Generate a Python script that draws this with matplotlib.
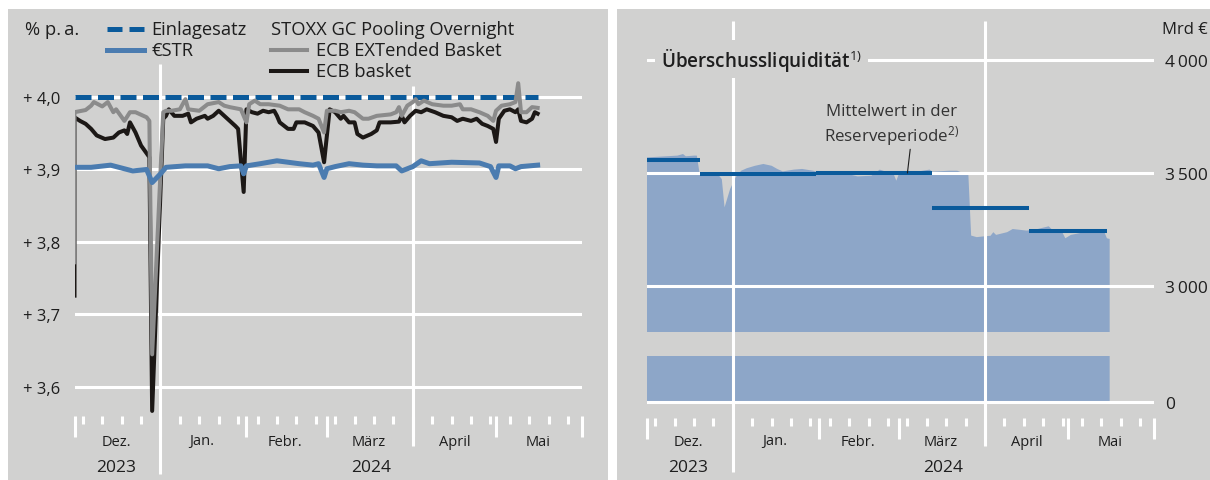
import matplotlib.pyplot as plt
import matplotlib.dates as mdates
import matplotlib.transforms as mtransforms
import pandas as pd
from matplotlib.lines import Line2D
from matplotlib.patches import Rectangle

FONT = 'Open Sans'
plt.rcParams['font.family'] = [FONT, 'DejaVu Sans']
plt.rcParams['mathtext.fontset'] = 'custom'
plt.rcParams['mathtext.rm'] = FONT
plt.rcParams['mathtext.it'] = FONT + ':italic'
plt.rcParams['mathtext.bf'] = FONT + ':bold'

# ---------------- data ----------------
einlage_dates = ['2023-12-01', '2024-05-16']
einlage_vals = [4.0, 4.0]

ext_dates = ['2023-12-01', '2023-12-01', '2023-12-05', '2023-12-07', '2023-12-08', '2023-12-11',
             '2023-12-13', '2023-12-15', '2023-12-16', '2023-12-19', '2023-12-21', '2023-12-23',
             '2023-12-27', '2023-12-28', '2023-12-29', '2024-01-02', '2024-01-03', '2024-01-05',
             '2024-01-08', '2024-01-10', '2024-01-11', '2024-01-15', '2024-01-18', '2024-01-22',
             '2024-01-24', '2024-01-26', '2024-01-30', '2024-01-31', '2024-02-01', '2024-02-02',
             '2024-02-04', '2024-02-06', '2024-02-09', '2024-02-13', '2024-02-16', '2024-02-20',
             '2024-02-22', '2024-02-25', '2024-02-27', '2024-02-29', '2024-03-01', '2024-03-04',
             '2024-03-06', '2024-03-09', '2024-03-11', '2024-03-14', '2024-03-16', '2024-03-19',
             '2024-03-24', '2024-03-26', '2024-03-27', '2024-03-28', '2024-03-30', '2024-04-01',
             '2024-04-02', '2024-04-03', '2024-04-05', '2024-04-08', '2024-04-12', '2024-04-15',
             '2024-04-18', '2024-04-19', '2024-04-22', '2024-04-25', '2024-04-28', '2024-04-30',
             '2024-05-01', '2024-05-03', '2024-05-06', '2024-05-08', '2024-05-09', '2024-05-10',
             '2024-05-12', '2024-05-14', '2024-05-16']
ext_vals = [3.772, 3.979, 3.982, 3.988, 3.993, 3.987,
            3.993, 3.979, 3.983, 3.967, 3.979, 3.979,
            3.972, 3.967, 3.645, 3.979, 3.981, 3.981,
            3.983, 3.997, 3.983, 3.981, 3.990, 3.993,
            3.988, 3.986, 3.983, 3.974, 3.965, 3.990,
            3.995, 3.990, 3.990, 3.988, 3.983, 3.983,
            3.979, 3.974, 3.970, 3.951, 3.981, 3.981,
            3.979, 3.981, 3.979, 3.970, 3.970, 3.974,
            3.976, 3.979, 3.986, 3.974, 3.988, 3.993,
            3.997, 3.990, 3.995, 3.990, 3.988, 3.988,
            3.990, 3.983, 3.983, 3.979, 3.974, 3.967,
            3.981, 3.988, 3.990, 3.993, 4.019, 3.979,
            3.979, 3.986, 3.985]

ecb_dates = ['2023-12-01', '2023-12-01', '2023-12-03', '2023-12-05', '2023-12-07', '2023-12-09',
             '2023-12-12', '2023-12-15', '2023-12-17', '2023-12-19', '2023-12-20', '2023-12-21',
             '2023-12-23', '2023-12-25', '2023-12-28', '2023-12-29', '2024-01-02', '2024-01-03',
             '2024-01-04', '2024-01-06', '2024-01-09', '2024-01-11', '2024-01-12', '2024-01-14',
             '2024-01-17', '2024-01-18', '2024-01-20', '2024-01-22', '2024-01-24', '2024-01-26',
             '2024-01-28', '2024-01-29', '2024-01-31', '2024-02-01', '2024-02-03', '2024-02-05',
             '2024-02-07', '2024-02-09', '2024-02-11', '2024-02-12', '2024-02-13', '2024-02-16',
             '2024-02-18', '2024-02-19', '2024-02-22', '2024-02-25', '2024-02-27', '2024-02-29',
             '2024-03-02', '2024-03-04', '2024-03-06', '2024-03-07', '2024-03-09', '2024-03-11',
             '2024-03-12', '2024-03-14', '2024-03-17', '2024-03-19', '2024-03-20', '2024-03-24',
             '2024-03-27', '2024-03-28', '2024-03-29', '2024-03-31', '2024-04-02', '2024-04-04',
             '2024-04-06', '2024-04-09', '2024-04-12', '2024-04-15', '2024-04-17', '2024-04-19',
             '2024-04-22', '2024-04-24', '2024-04-26', '2024-04-28', '2024-04-30', '2024-05-01',
             '2024-05-02', '2024-05-04', '2024-05-06', '2024-05-08', '2024-05-09', '2024-05-10',
             '2024-05-12', '2024-05-14', '2024-05-15', '2024-05-16']
ecb_vals = [3.726, 3.972, 3.967, 3.963, 3.956, 3.947,
            3.942, 3.944, 3.951, 3.954, 3.949, 3.965,
            3.951, 3.933, 3.917, 3.567, 3.970, 3.974,
            3.983, 3.974, 3.974, 3.977, 3.965, 3.970,
            3.974, 3.970, 3.974, 3.981, 3.974, 3.967,
            3.960, 3.956, 3.869, 3.983, 3.979, 3.977,
            3.981, 3.979, 3.981, 3.974, 3.965, 3.956,
            3.956, 3.965, 3.965, 3.960, 3.951, 3.910,
            3.983, 3.979, 3.970, 3.974, 3.965, 3.965,
            3.949, 3.944, 3.949, 3.954, 3.965, 3.965,
            3.966, 3.974, 3.965, 3.974, 3.981, 3.979,
            3.983, 3.979, 3.974, 3.972, 3.967, 3.970,
            3.967, 3.970, 3.963, 3.960, 3.956, 3.938,
            3.970, 3.981, 3.983, 3.979, 3.983, 3.967,
            3.965, 3.970, 3.979, 3.977]

estr_dates = ['2023-12-01', '2023-12-07', '2023-12-14', '2023-12-19', '2023-12-22', '2023-12-27',
              '2023-12-29', '2024-01-01', '2024-01-03', '2024-01-10', '2024-01-18', '2024-01-22',
              '2024-01-26', '2024-01-30', '2024-01-31', '2024-02-01', '2024-02-06', '2024-02-12',
              '2024-02-16', '2024-02-20', '2024-02-25', '2024-02-27', '2024-02-29', '2024-03-01',
              '2024-03-04', '2024-03-09', '2024-03-14', '2024-03-19', '2024-03-26', '2024-03-28',
              '2024-04-01', '2024-04-04', '2024-04-07', '2024-04-15', '2024-04-25', '2024-04-29',
              '2024-05-01', '2024-05-02', '2024-05-06', '2024-05-08', '2024-05-10', '2024-05-16']
estr_vals = [3.903, 3.903, 3.906, 3.901, 3.898, 3.900,
             3.882, 3.894, 3.903, 3.905, 3.905, 3.901,
             3.904, 3.905, 3.894, 3.905, 3.908, 3.912,
             3.910, 3.908, 3.906, 3.908, 3.889, 3.901,
             3.904, 3.908, 3.906, 3.905, 3.905, 3.898,
             3.904, 3.912, 3.908, 3.910, 3.909, 3.904,
             3.889, 3.905, 3.905, 3.901, 3.904, 3.906]

liq_dates = ['2023-12-01', '2023-12-08', '2023-12-12', '2023-12-14', '2023-12-15', '2023-12-18',
             '2023-12-19', '2023-12-20', '2023-12-22', '2023-12-27', '2023-12-28', '2023-12-29',
             '2023-12-31', '2024-01-02', '2024-01-04', '2024-01-06', '2024-01-09', '2024-01-12',
             '2024-01-15', '2024-01-17', '2024-01-19', '2024-01-23', '2024-01-26', '2024-01-30',
             '2024-02-01', '2024-02-09', '2024-02-15', '2024-02-20', '2024-02-23', '2024-02-26',
             '2024-02-28', '2024-02-29', '2024-03-01', '2024-03-06', '2024-03-12', '2024-03-13',
             '2024-03-19', '2024-03-22', '2024-03-26', '2024-03-27', '2024-03-29', '2024-04-01',
             '2024-04-03', '2024-04-04', '2024-04-05', '2024-04-09', '2024-04-11', '2024-04-16',
             '2024-04-19', '2024-04-24', '2024-04-25', '2024-04-29', '2024-04-30', '2024-05-02',
             '2024-05-07', '2024-05-14', '2024-05-15', '2024-05-16']
liq_vals = [3569, 3574, 3577, 3584, 3574, 3577,
            3577, 3496, 3491, 3488, 3473, 3348,
            3429, 3481, 3510, 3521, 3532, 3540,
            3532, 3518, 3507, 3515, 3518, 3510,
            3503, 3503, 3485, 3488, 3515, 3503,
            3496, 3466, 3499, 3503, 3515, 3506,
            3510, 3510, 3491, 3223, 3216, 3220,
            3222, 3238, 3226, 3238, 3252, 3245,
            3249, 3264, 3252, 3235, 3211, 3226,
            3238, 3241, 3211, 3208]

mean_starts = ['2023-12-01', '2023-12-20', '2024-01-31', '2024-03-13', '2024-04-17']
mean_ends = ['2023-12-20', '2024-01-31', '2024-03-13', '2024-04-17', '2024-05-15']
mean_vals = [3557, 3496, 3500, 3344, 3241]

month_labels = ['Dez.', 'Jan.', 'Febr.', 'März', 'April', 'Mai']
month_mids = ['2023-12-16', '2024-01-16', '2024-02-15', '2024-03-16', '2024-04-16', '2024-05-16']

left_ticks = [3.6, 3.7, 3.8, 3.9, 4.0]
left_ticklabels = ['+ 3,6', '+ 3,7', '+ 3,8', '+ 3,9', '+ 4,0']
right_ticks = [3000, 3500, 4000]
right_ticklabels = ['3\u2009000', '3\u2009500', '4\u2009000']

# ---------------- style ----------------
W, H = 1210, 481
panel = '#d1d1d0'
txt = '#1e1e1e'
dark_blue = '#0a5a9b'
estr_blue = '#4b7cb0'
grey = '#8b8b8b'
black = '#1c1816'
fill_col = '#8da6c8'
FS_LEG = 13.2
FS_TICK = 12


def fx(x):
    return x / W


def fy(y):
    return 1 - y / H


D = pd.to_datetime
x_start, x_end = D('2023-12-01'), D('2024-06-01')

fig = plt.figure(figsize=(W / 100, H / 100), dpi=100, facecolor='white')
fig.add_artist(Rectangle((fx(8), 0), fx(608) - fx(8), fy(10), transform=fig.transFigure,
                         facecolor=panel, edgecolor='none', zorder=0))
fig.add_artist(Rectangle((fx(617), 0), fx(1210) - fx(617), fy(10), transform=fig.transFigure,
                         facecolor=panel, edgecolor='none', zorder=0))


def style_x(ax):
    ax.set_xlim(x_start, x_end)
    ax.xaxis.set_major_locator(mdates.MonthLocator())
    ax.xaxis.set_minor_locator(mdates.WeekdayLocator(byweekday=mdates.MO))
    ax.xaxis.set_major_formatter(plt.NullFormatter())
    ax.tick_params(axis='x', which='major', length=15, width=2.2, color='white', direction='out')
    ax.tick_params(axis='x', which='minor', length=6, width=2.2, color='white', direction='out')
    for s in ax.spines.values():
        s.set_visible(False)
    ax.patch.set_visible(False)


def month_year_labels(ax, year2024_mid):
    tr = mtransforms.blended_transform_factory(ax.transData, fig.transFigure)
    for lab, mid in zip(month_labels, month_mids):
        ax.text(D(mid), fy(442), lab, transform=tr, ha='center', va='center',
                fontsize=10.5, color=txt)
    ax.text(D('2023-12-16'), fy(468), '2023', transform=tr, ha='center', va='center',
            fontsize=12.5, color=txt)
    ax.text(year2024_mid, fy(468), '2024', transform=tr, ha='center', va='center',
            fontsize=12.5, color=txt)
    return tr


def vline(ax, tr, date, top, bottom):
    ax.plot([D(date), D(date)], [fy(top), fy(bottom)], transform=tr, color='white',
            lw=2.2, clip_on=False, zorder=1.6, solid_capstyle='butt')


mid2024 = D('2024-01-01') + (x_end - D('2024-01-01')) / 2

# ---------------- left panel ----------------
ax1 = fig.add_axes([fx(74.5), fy(417), fx(582) - fx(74.5), (417 - 65) / H])
style_x(ax1)
ax1.set_ylim(3.56, 4.0455)
ax1.set_yticks(left_ticks)
ax1.set_yticklabels(left_ticklabels)
ax1.tick_params(axis='y', length=0, pad=10, labelsize=FS_TICK, labelcolor=txt)
ax1.yaxis.grid(True, color='white', lw=2.2)
ax1.set_axisbelow(True)
tr1 = month_year_labels(ax1, mid2024)
vline(ax1, tr1, '2024-01-01', 65, 475)
vline(ax1, tr1, '2024-04-01', 87, 447)

ax1.plot(D(einlage_dates), einlage_vals, color=dark_blue, lw=3.6, dashes=(3.2, 1.3),
         solid_capstyle='butt', dash_capstyle='butt', zorder=2)
ax1.plot(D(ecb_dates), ecb_vals, color=black, lw=2.9, zorder=3)
ax1.plot(D(ext_dates), ext_vals, color=grey, lw=2.9, zorder=4)
ax1.plot(D(estr_dates), estr_vals, color=estr_blue, lw=3.6, zorder=5)

# legend (manual layout as in the original)
fig.text(fx(25), fy(30), '% p.\u2009a.', ha='left', va='center', fontsize=FS_LEG, color=txt)
fig.add_artist(Line2D([fx(107), fx(144)], [fy(30), fy(30)], color=dark_blue, lw=3.6,
                      dashes=(3.0, 1.4), dash_capstyle='butt'))
fig.text(fx(151), fy(30), 'Einlagesatz', ha='left', va='center', fontsize=FS_LEG, color=txt)
fig.add_artist(Line2D([fx(107), fx(144)], [fy(51), fy(51)], color=estr_blue, lw=3.6))
fig.text(fx(151), fy(51), '€STR', ha='left', va='center', fontsize=FS_LEG, color=txt)
fig.text(fx(271), fy(30), 'STOXX GC Pooling Overnight', ha='left', va='center',
         fontsize=FS_LEG, color=txt)
fig.add_artist(Line2D([fx(271), fx(307)], [fy(51), fy(51)], color=grey, lw=2.9))
fig.text(fx(316), fy(51), 'ECB EXTended Basket', ha='left', va='center', fontsize=FS_LEG,
         color=txt)
fig.add_artist(Line2D([fx(271), fx(307)], [fy(72), fy(72)], color=black, lw=2.9))
fig.text(fx(316), fy(72), 'ECB basket', ha='left', va='center', fontsize=FS_LEG, color=txt)

# ---------------- right panel (broken axis) ----------------
axl = fig.add_axes([fx(647), fy(419), fx(1154) - fx(647), (419 - 357) / H], zorder=1)
axu = fig.add_axes([fx(647), fy(333), fx(1154) - fx(647), (333 - 22) / H], zorder=2)
style_x(axl)
style_x(axu)
axu.tick_params(axis='x', which='both', length=0)
axu.set_ylim(2796, 4173)
axl.set_ylim(-71, 204)
for ax, ticks, labs in [(axu, right_ticks, right_ticklabels), (axl, [0], ['0'])]:
    ax.yaxis.tick_right()
    ax.set_yticks(ticks)
    ax.set_yticklabels(labs)
    ax.tick_params(axis='y', length=0, pad=8, labelsize=12.5, labelcolor=txt)
    ax.yaxis.grid(True, color='white', lw=2.2)
    ax.fill_between(D(liq_dates), 0, liq_vals, color=fill_col, lw=0, zorder=1)

tr2 = month_year_labels(axl, mid2024)
tru = mtransforms.blended_transform_factory(axu.transData, fig.transFigure)
vline(axu, tru, '2024-01-01', 22, 473)
vline(axu, tru, '2024-04-01', 22, 447)

for s, e, v in zip(mean_starts, mean_ends, mean_vals):
    axu.plot([D(s), D(e)], [v, v], color=dark_blue, lw=2.9, solid_capstyle='butt', zorder=3)

axu.text(fx(661), fy(60), 'Überschussliquidität$^{1)}$', transform=fig.transFigure,
         ha='left', va='center', fontsize=13.6, fontweight='semibold', color=txt, zorder=5,
         bbox=dict(boxstyle='square,pad=0.3', facecolor=panel, edgecolor='none'))
axu.text(fx(892), fy(126), 'Mittelwert in der\nReserveperiode$^{2)}$', transform=fig.transFigure,
         ha='center', va='center', multialignment='center', fontsize=12.2, color='#333333',
         linespacing=1.2, zorder=5)
axu.annotate('', xy=(D('2024-03-04'), 3500), xytext=(D('2024-03-05'), 3605),
             arrowprops=dict(arrowstyle='-', color=txt, lw=0.8, shrinkA=0, shrinkB=0), zorder=5)
fig.text(fx(1208), fy(30), 'Mrd €', ha='right', va='center', fontsize=FS_TICK, color=txt)

fig.savefig('out.png', dpi=100, facecolor=fig.get_facecolor())
